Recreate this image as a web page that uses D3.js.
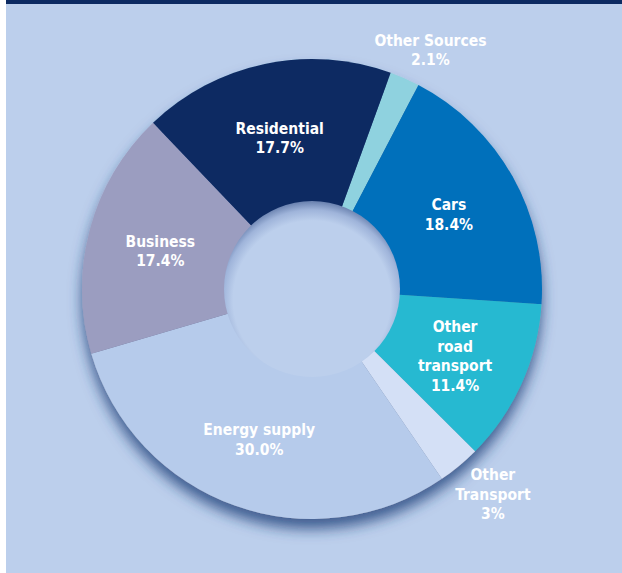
<!DOCTYPE html>
<html>
<head>
<meta charset="utf-8">
<script src="https://cdn.jsdelivr.net/npm/d3@7"></script>
<style>
body{margin:0;background:#fff;}
text{font-family:"DejaVu Sans Condensed","DejaVu Sans",sans-serif;font-stretch:condensed;font-weight:bold;}
</style>
</head>
<body>
<script>
var width=622;
var height=573;
var categories=["Other Sources","Cars","Other road transport","Other Transport","Energy supply","Business","Residential"];
var values=[2.1,18.4,11.4,3,30.0,17.4,17.7];
var labels=[["Other Sources","2.1%"],["Cars","18.4%"],["Other","road","transport","11.4%"],["Other","Transport","3%"],["Energy supply","30.0%"],["Business","17.4%"],["Residential","17.7%"]];
var colors=["#8fd2df","#0070bb","#27b9d1","#d4e0f6","#b6cbeb","#9b9dc0","#0c2a62"];

var cx=312,cy=289,outerR=230,innerR=88;
var startDeg=20;

var svg=d3.select("body").append("svg").attr("width",width).attr("height",height);
var defs=svg.append("defs");

var shadow=defs.append("filter").attr("id","shadow")
    .attr("x","-20%").attr("y","-20%").attr("width","140%").attr("height","150%");
shadow.append("feDropShadow").attr("dx",0).attr("dy",10).attr("stdDeviation",7)
    .attr("flood-color","#24437a").attr("flood-opacity",0.8);

var holeGrad=defs.append("radialGradient").attr("id","hole")
    .attr("cx","50%").attr("cy","56%").attr("r","56%");
holeGrad.append("stop").attr("offset","0.8").attr("stop-color","#bccfec");
holeGrad.append("stop").attr("offset","0.91").attr("stop-color","#9fb4da");
holeGrad.append("stop").attr("offset","1").attr("stop-color","#6880ae");

// panel
svg.append("rect").attr("x",6).attr("y",0).attr("width",width-6).attr("height",height).attr("fill","#bccfec");
svg.append("rect").attr("x",6).attr("y",0).attr("width",width-6).attr("height",4).attr("fill","#0c2a62");

var pie=d3.pie().sort(null)
    .startAngle(startDeg*Math.PI/180)
    .endAngle(startDeg*Math.PI/180+2*Math.PI);
var arcs=pie(values);
var arc=d3.arc().innerRadius(0).outerRadius(outerR);
var labelArc=d3.arc().innerRadius(157).outerRadius(157);
var outArc=d3.arc().innerRadius(264).outerRadius(264);

var g=svg.append("g").attr("transform","translate("+cx+","+cy+")");
var slices=g.append("g").attr("filter","url(#shadow)");
slices.selectAll("path").data(arcs).enter().append("path")
    .attr("d",arc)
    .attr("fill",function(d,i){return colors[i];});

g.append("circle").attr("r",innerR).attr("fill","url(#hole)");

var lab=g.selectAll(".lab").data(arcs).enter().append("text")
    .attr("class","lab")
    .attr("fill","#fff")
    .attr("font-size","15.5px")
    .attr("text-anchor","middle")
    .attr("transform",function(d){
        var outside=d.value<5;
        var c=(outside?outArc:labelArc).centroid(d);
        return "translate("+(c[0]+(outside?12:0))+","+c[1]+")";
    });
lab.each(function(d,i){
    var t=d3.select(this);
    var n=labels[i].length;
    labels[i].forEach(function(s,j){
        t.append("tspan").attr("x",0)
            .attr("y",(j-(n-1)/2)*19.5+8)
            .text(s);
    });
});
</script>
</body>
</html>
